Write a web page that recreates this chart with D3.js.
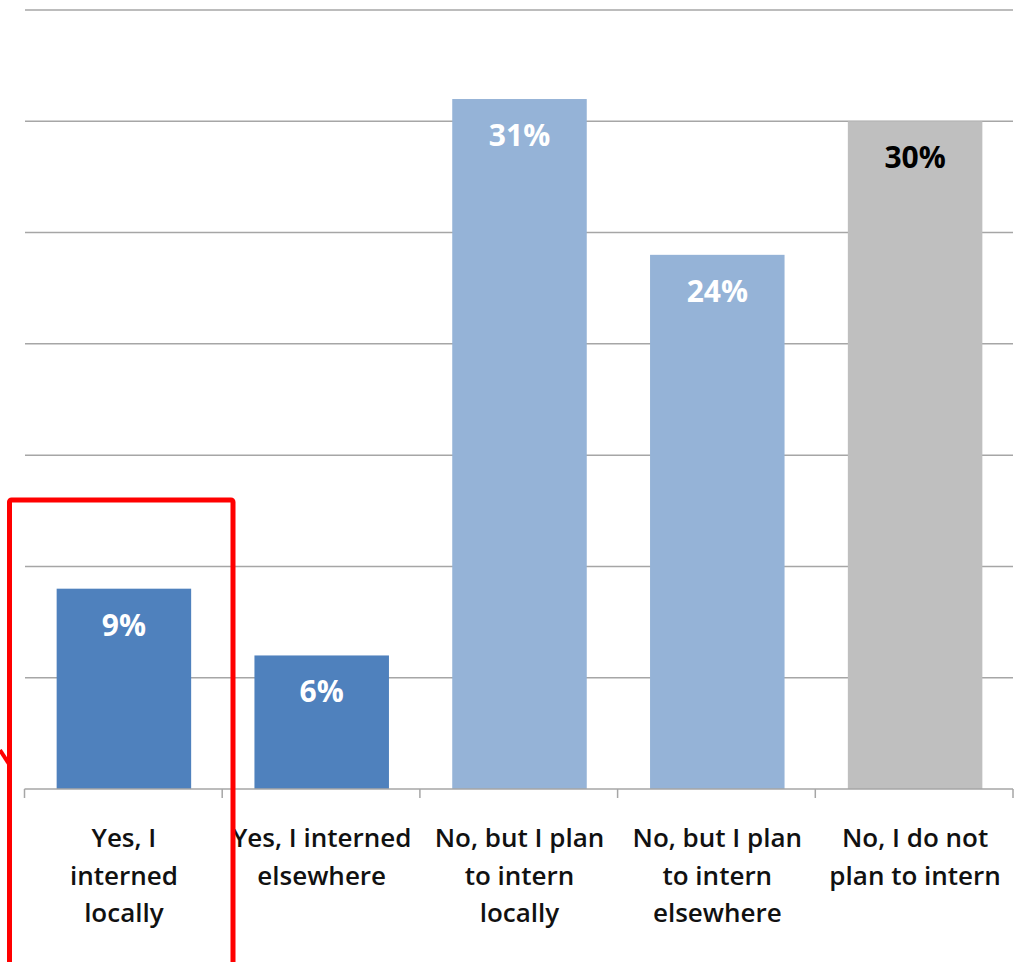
<!DOCTYPE html>
<html>
<head>
<meta charset="utf-8">
<script src="https://cdn.jsdelivr.net/npm/d3@7"></script>
<style>
  html, body { margin: 0; padding: 0; background: #fff; }
  svg { display: block; }
</style>
</head>
<body>
<svg id="chart" width="1023" height="962"></svg>
<script>
const categories = [
  "Yes, I\ninterned\nlocally",
  "Yes, I interned\nelsewhere",
  "No, but I plan\nto intern\nlocally",
  "No, but I plan\nto intern\nelsewhere",
  "No, I do not\nplan to intern"
];
const values = [9, 6, 31, 24, 30];
const barColors = ["#4F81BD", "#4F81BD", "#95B3D7", "#95B3D7", "#BFBFBF"];
const labelColors = ["#FFFFFF", "#FFFFFF", "#FFFFFF", "#FFFFFF", "#000000"];
const yTicks = [0, 5, 10, 15, 20, 25, 30, 35];

const svg = d3.select("#chart");
const font = "'Open Sans', sans-serif";

const x = d3.scaleBand().domain(categories).range([25, 1014]).paddingInner(0.32).paddingOuter(0.16);
const y = d3.scaleLinear().domain([0, 35]).range([789, 10]);

// gridlines
svg.append("g").selectAll("line").data(yTicks.filter(d => d > 0)).join("line")
  .attr("x1", 25).attr("x2", 1013)
  .attr("y1", d => y(d)).attr("y2", d => y(d))
  .attr("stroke", "#A6A6A6").attr("stroke-width", 1.5);

// bars
svg.append("g").selectAll("rect").data(values).join("rect")
  .attr("x", (d, i) => x(categories[i]))
  .attr("width", x.bandwidth())
  .attr("y", d => y(d))
  .attr("height", d => y(0) - y(d))
  .attr("fill", (d, i) => barColors[i]);

// value labels
svg.append("g").selectAll("text").data(values).join("text")
  .attr("x", (d, i) => x(categories[i]) + x.bandwidth() / 2)
  .attr("y", d => y(d) + 47)
  .attr("text-anchor", "middle")
  .attr("font-family", font)
  .attr("font-weight", "bold")
  .attr("font-size", 30)
  .attr("fill", (d, i) => labelColors[i])
  .text(d => d + "%");

// x axis
const axis = d3.axisBottom(x).tickSize(0).tickFormat("");
const gx = svg.append("g").attr("transform", `translate(0,${y(0)})`).call(axis);
gx.select(".domain").attr("stroke", "#A6A6A6").attr("stroke-width", 1.5).attr("d", "M24.5,0H1013");
const bounds = d3.range(categories.length + 1).map(i => 24.5 + i * (988.5 / categories.length));
gx.selectAll(".bt").data(bounds).join("line").attr("class", "bt")
  .attr("x1", d => d).attr("x2", d => d).attr("y1", 0).attr("y2", 9)
  .attr("stroke", "#A6A6A6").attr("stroke-width", 1.5);

// category labels
const lab = svg.append("g").selectAll("text").data(categories).join("text")
  .attr("text-anchor", "middle")
  .attr("font-family", font)
  .attr("font-weight", 600)
  .attr("font-size", 26)
  .attr("fill", "#111");
lab.each(function(d) {
  const t = d3.select(this);
  const cx = x(d) + x.bandwidth() / 2;
  d.split("\n").forEach((line, j) => {
    t.append("tspan").attr("x", cx).attr("y", 847 + j * 37.5).text(line);
  });
});

// red annotation
svg.append("rect")
  .attr("x", 9.5).attr("y", 500)
  .attr("width", 223.5).attr("height", 520)
  .attr("rx", 2)
  .attr("fill", "none").attr("stroke", "#FF0000").attr("stroke-width", 5);
svg.append("line")
  .attr("x1", 0).attr("y1", 750).attr("x2", 9).attr("y2", 764)
  .attr("stroke", "#FF0000").attr("stroke-width", 4);
</script>
</body>
</html>
